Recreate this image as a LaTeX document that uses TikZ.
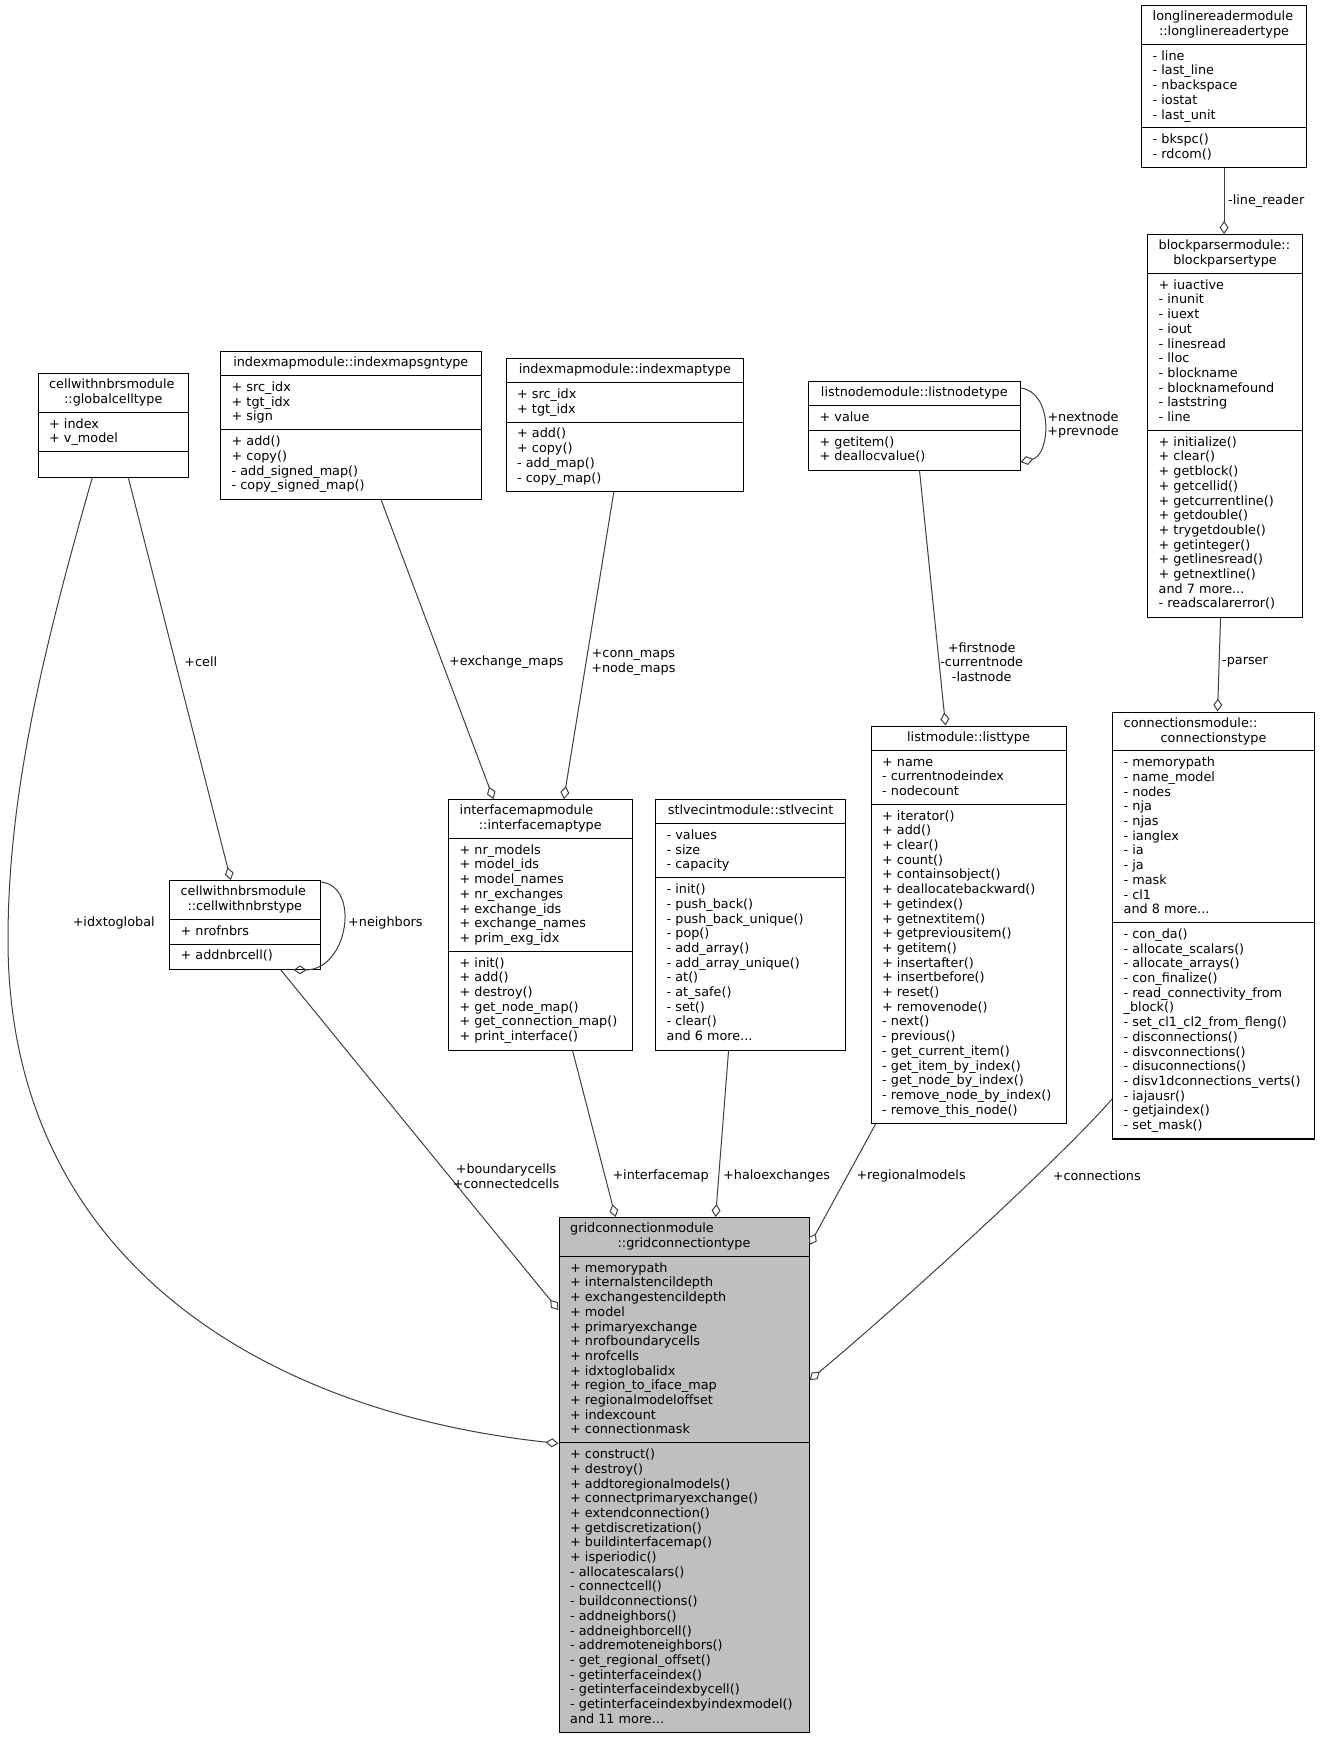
\documentclass[tikz,border=0pt]{standalone}
\usepackage{fontspec}
\setmainfont{DejaVu Sans}
\usetikzlibrary{arrows.meta}
\definecolor{edgec}{HTML}{404040}
\definecolor{gridfill}{HTML}{BFBFBF}
\newcommand{\tdots}{...}
\tikzset{
 txt/.style={font=\fontsize{12.8}{14.7}\selectfont, inner sep=0pt, text=black},
 lbl/.style={txt, align=center},
 boxst/.style={draw=black, line width=1.1pt, inner sep=0pt},
 sepst/.style={draw=black, line width=1.1pt},
 edge/.style={draw=edgec, line width=1pt, -{Diamond[open, length=13pt, width=9pt]}},
}
\newcommand{\ubox}[8]{%
  \pgfmathsetmacro\hA{#5*14.7+10}%
  \pgfmathsetmacro\hB{max(#6,1)*14.7+10}%
  \pgfmathsetmacro\hC{max(#7,1)*14.7+10}%
  \pgfmathsetmacro\hT{\hA+\hB+\hC}%
  \pgfmathsetmacro\hAB{\hA+\hB}%
  \expandafter\xdef\csname ub#1A\endcsname{\hA}%
  \expandafter\xdef\csname ub#1B\endcsname{\hAB}%
  \node[boxst, fill=#8, minimum width=#4pt, minimum height=\hT pt, anchor=north west] (#1) at (#2,#3) {};
  \draw[sepst] ([yshift=-\hA pt]#1.north west) -- ([yshift=-\hA pt]#1.north east);
  \draw[sepst] ([yshift=-\hAB pt]#1.north west) -- ([yshift=-\hAB pt]#1.north east);
}
\newcommand{\uheadtwo}[3]{%
  \node[txt, anchor=base west] (#1-h1) at ([xshift=11.5pt, yshift=-15.8pt]#1.north west) {#2};
  \node[txt, anchor=base] (#1-h2) at ([yshift=-30.5pt]#1.north) {#3};}
\newcommand{\uheadone}[2]{%
  \node[txt, anchor=base] (#1-h1) at ([yshift=-15.8pt]#1.north) {#2};}
\newcommand{\usec}[3]{%
  \foreach \t [count=\i from 0] in {#3} {%
    \pgfmathsetmacro\off{\csname ub#1#2\endcsname + 15.8 + \i*14.7}%
    \node[txt, anchor=base west] (#1-#2\i) at ([xshift=11.5pt, yshift=-\off pt]#1.north west) {\t};}}
\begin{document}
\begin{tikzpicture}[x=1pt, y=-1pt]
\fill[white] (0,0) rectangle (1320,1740);
\useasboundingbox (0,0) rectangle (1320,1740);

% ---------- boxes ----------
\ubox{llr}{1141}{5}{165}{2}{5}{2}{white}
\uheadtwo{llr}{longlinereadermodule}{::longlinereadertype}
\usec{llr}{A}{- line, - last\_line, - nbackspace, - iostat, - last\_unit}
\usec{llr}{B}{- bkspc(), - rdcom()}

\ubox{bp}{1147}{234}{155}{2}{10}{12}{white}
\uheadtwo{bp}{blockparsermodule::}{blockparsertype}
\usec{bp}{A}{+ iuactive, - inunit, - iuext, - iout, - linesread, - lloc, - blockname, - blocknamefound, - laststring, - line}
\usec{bp}{B}{+ initialize(), + clear(), + getblock(), + getcellid(), + getcurrentline(), + getdouble(), + trygetdouble(), + getinteger(), + getlinesread(), + getnextline(), and 7 more\tdots, - readscalarerror()}

\ubox{ln}{808}{381}{211.5}{1}{1}{2}{white}
\uheadone{ln}{listnodemodule::listnodetype}
\usec{ln}{A}{+ value}
\usec{ln}{B}{+ getitem(), + deallocvalue()}

\ubox{ims}{220}{351}{260.5}{1}{3}{4}{white}
\uheadone{ims}{indexmapmodule::indexmapsgntype}
\usec{ims}{A}{+ src\_idx, + tgt\_idx, + sign}
\usec{ims}{B}{+ add(), + copy(), - add\_signed\_map(), - copy\_signed\_map()}

\ubox{im}{505.5}{358}{237.5}{1}{2}{4}{white}
\uheadone{im}{indexmapmodule::indexmaptype}
\usec{im}{A}{+ src\_idx, + tgt\_idx}
\usec{im}{B}{+ add(), + copy(), - add\_map(), - copy\_map()}

\ubox{gc}{37.5}{373}{150.5}{2}{2}{0}{white}
\uheadtwo{gc}{cellwithnbrsmodule}{::globalcelltype}
\usec{gc}{A}{+ index, + v\_model}

\ubox{cn}{169}{880}{150.5}{2}{1}{1}{white}
\uheadtwo{cn}{cellwithnbrsmodule}{::cellwithnbrstype}
\usec{cn}{A}{+ nrofnbrs}
\usec{cn}{B}{+ addnbrcell()}

\ubox{imap}{448}{799}{183.5}{2}{7}{6}{white}
\uheadtwo{imap}{interfacemapmodule}{::interfacemaptype}
\usec{imap}{A}{+ nr\_models, + model\_ids, + model\_names, + nr\_exchanges, + exchange\_ids, + exchange\_names, + prim\_exg\_idx}
\usec{imap}{B}{+ init(), + add(), + destroy(), + get\_node\_map(), + get\_connection\_map(), + print\_interface()}

\ubox{sv}{655}{799}{190}{1}{3}{11}{white}
\uheadone{sv}{stlvecintmodule::stlvecint}
\usec{sv}{A}{- values, - size, - capacity}
\usec{sv}{B}{- init(), - push\_back(), - push\_back\_unique(), - pop(), - add\_array(), - add\_array\_unique(), - at(), - at\_safe(), - set(), - clear(), and 6 more\tdots}

\ubox{lt}{870.5}{725.5}{195}{1}{3}{21}{white}
\uheadone{lt}{listmodule::listtype}
\usec{lt}{A}{+ name, - currentnodeindex, - nodecount}
\usec{lt}{B}{+ iterator(), + add(), + clear(), + count(), + containsobject(), + deallocatebackward(), + getindex(), + getnextitem(), + getpreviousitem(), + getitem(), + insertafter(), + insertbefore(), + reset(), + removenode(), - next(), - previous(), - get\_current\_item(), - get\_item\_by\_index(), - get\_node\_by\_index(), - remove\_node\_by\_index(), - remove\_this\_node()}

\ubox{cs}{1112}{711.5}{202}{2}{11}{14}{white}
\uheadtwo{cs}{connectionsmodule::}{connectionstype}
\usec{cs}{A}{- memorypath, - name\_model, - nodes, - nja, - njas, - ianglex, - ia, - ja, - mask, - cl1, and 8 more\tdots}
\usec{cs}{B}{- con\_da(), - allocate\_scalars(), - allocate\_arrays(), - con\_finalize(), - read\_connectivity\_from, \_block(), - set\_cl1\_cl2\_from\_fleng(), - disconnections(), - disvconnections(), - disuconnections(), - disv1dconnections\_verts(), - iajausr(), - getjaindex(), - set\_mask()}

\ubox{grid}{558.5}{1217}{250}{2}{12}{19}{gridfill}
\uheadtwo{grid}{gridconnectionmodule}{::gridconnectiontype}
\usec{grid}{A}{+ memorypath, + internalstencildepth, + exchangestencildepth, + model, + primaryexchange, + nrofboundarycells, + nrofcells, + idxtoglobalidx, + region\_to\_iface\_map, + regionalmodeloffset, + indexcount, + connectionmask}
\usec{grid}{B}{+ construct(), + destroy(), + addtoregionalmodels(), + connectprimaryexchange(), + extendconnection(), + getdiscretization(), + buildinterfacemap(), + isperiodic(), - allocatescalars(), - connectcell(), - buildconnections(), - addneighbors(), - addneighborcell(), - addremoteneighbors(), - get\_regional\_offset(), - getinterfaceindex(), - getinterfaceindexbycell(), - getinterfaceindexbyindexmodel(), and 11 more\tdots}

% ---------- connectors ----------
\draw[edge] (llr.south) -- (llr.south |- bp.north);
\draw[edge] ([xshift=-4.5pt]bp.south) -- ([xshift=4pt]cs.north);
\draw[edge] ([yshift=-7pt]ln.north east) .. controls +(33,4) and +(30,-7) .. ([yshift=-81pt]ln.north east);
\draw[edge] ([xshift=5.25pt]ln.south) -- ([xshift=-23pt]lt.north);
\draw[edge] ([xshift=30.25pt]ims.south) -- ([xshift=-46.75pt]imap.north);
\draw[edge] ([xshift=-11pt]im.south) -- ([xshift=23.5pt]imap.north);
\draw[edge] ([xshift=15pt]gc.south) -- ([xshift=-14pt]cn.north);
\draw[edge] ([xshift=-21pt]gc.south) .. controls (40,660) and (8,800) .. (8,940) .. controls (8,1250) and (250,1410) .. ([yshift=-226.5pt]grid.north west);
\draw[edge] ([yshift=-2pt]cn.north east) .. controls +(40,3) and +(55,0) .. ([xshift=-27pt]cn.south east);
\draw[edge] ([xshift=36pt]cn.south) -- ([yshift=-93pt]grid.north west);
\draw[edge] ([xshift=32.25pt]imap.south) -- ([xshift=-68.5pt]grid.north);
\draw[edge] ([xshift=-22pt]sv.south) -- ([xshift=31.5pt]grid.north);
\draw[edge] ([xshift=-93pt]lt.south) -- ([yshift=-28pt]grid.north east);
\draw[edge] ([yshift=-387.5pt]cs.north west) .. controls +(-50,58) and +(90,-75) .. ([yshift=-163pt]grid.north east);

% ---------- labels ----------
\node[lbl, anchor=west] (l-linereader) at (1228,201) {-line\_reader};
\node[lbl, anchor=west] (l-parser) at (1222,662) {-parser};
\node[lbl] (l-nextnode) at (1083,425) {+nextnode\\+prevnode};
\node[lbl] (l-firstnode) at (981.7,662.2) {+firstnode\\-currentnode\\-lastnode};
\node[lbl, anchor=west] (l-exch) at (449,662) {+exchange\_maps};
\node[lbl] (l-conn) at (633.4,662.7) {+conn\_maps\\+node\_maps};
\node[lbl] (l-cell) at (200.8,662) {+cell};
\node[lbl] (l-idx) at (113.7,923) {+idxtoglobal};
\node[lbl, anchor=west] (l-nbrs) at (348,923) {+neighbors};
\node[lbl] (l-bnd) at (506,1176.3) {+boundarycells\\+connectedcells};
\node[lbl, anchor=west] (l-imap) at (612.3,1175.8) {+interfacemap};
\node[lbl, anchor=west] (l-halo) at (723,1175.8) {+haloexchanges};
\node[lbl, anchor=west] (l-reg) at (856.3,1175.8) {+regionalmodels};
\node[lbl, anchor=west] (l-conns) at (1052.6,1175.8) {+connections};
\end{tikzpicture}
\end{document}
